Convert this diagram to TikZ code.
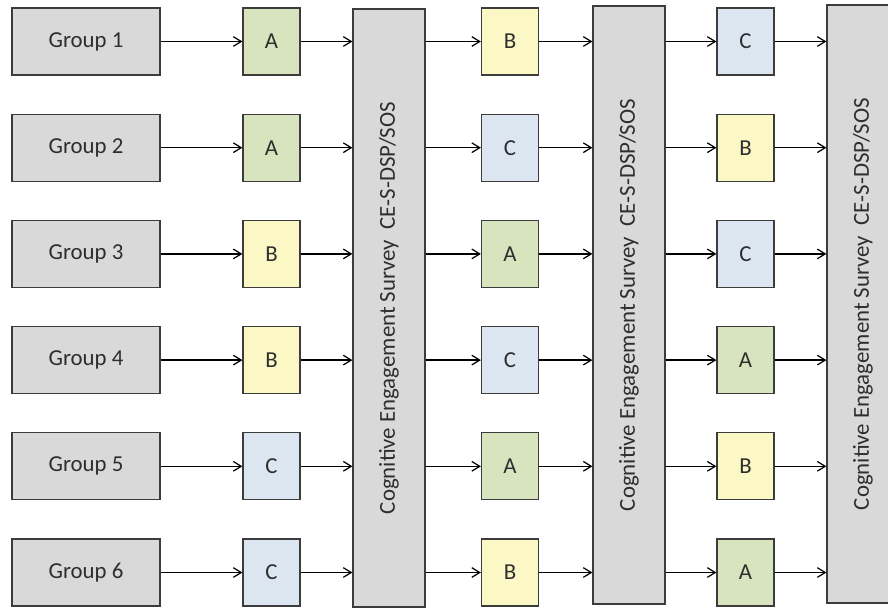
\documentclass[tikz,border=0pt]{standalone}
\usepackage{fontspec}
\setmainfont{Carlito}
\usepackage{tikz}
\usetikzlibrary{arrows.meta}
\usepackage{xcolor}
\definecolor{edgegrey}{HTML}{3C3C3C}
\definecolor{textgrey}{HTML}{2E2E2E}
\definecolor{surveygrey}{HTML}{D9D9D9}
\definecolor{fillA}{HTML}{D8E4BE}
\definecolor{fillB}{HTML}{FCF8C6}
\definecolor{fillC}{HTML}{DCE6F1}

\begin{document}
\begin{tikzpicture}[x=0.02cm,y=-0.02cm,line width=0.7pt,
  >={Straight Barb[length=4.5pt,width=5.5pt]},
  every node/.style={font=\fontsize{13}{15}\selectfont,text=textgrey},
  group/.style={draw=edgegrey,fill=surveygrey,minimum width=2.96cm,minimum height=1.34cm,inner sep=0pt},
  cond/.style={draw=edgegrey,fill=fill#1,minimum width=1.14cm,minimum height=1.34cm,inner sep=0pt},
  survey/.style={draw=edgegrey,fill=surveygrey,rotate=90,minimum width=11.96cm,minimum height=1.44cm,inner sep=0pt}]
\useasboundingbox (0,0) rectangle (888,609);
% Survey bars between the three rounds; the last one runs off the page edge.
\node[survey] (s1) at (389,308) {Cognitive Engagement Survey\ \ CE-S-DSP/SOS};
\node[survey] (s2) at (629,305) {Cognitive Engagement Survey\ \ CE-S-DSP/SOS};
\node[survey] (s3) at (863,304) {Cognitive Engagement Survey\ \ CE-S-DSP/SOS};
% One row per group: group box and its conditions in the three rounds.
\foreach \r/\y/\ta/\tb/\tc in {1/41.5/A/B/C,2/147.7/A/C/B,3/253.9/B/A/C,
                                4/360.1/B/C/A,5/466.3/C/A/B,6/572.5/C/B/A} {
  \node[group] (g\r) at (86,\y) {Group \r};
  \node[cond=\ta] (x\r) at (271.5,\y) {\ta};
  \node[cond=\tb] (y\r) at (510,\y) {\tb};
  \node[cond=\tc] (z\r) at (745.5,\y) {\tc};
  \draw[->] (g\r) -- (x\r);
  \draw[->] (x\r.east) -- (x\r -| s1.north);
  \draw[->] (y\r -| s1.south) -- (y\r);
  \draw[->] (y\r.east) -- (y\r -| s2.north);
  \draw[->] (z\r -| s2.south) -- (z\r);
  \draw[->] (z\r.east) -- (z\r -| s3.north);
}
\end{tikzpicture}
\end{document}
